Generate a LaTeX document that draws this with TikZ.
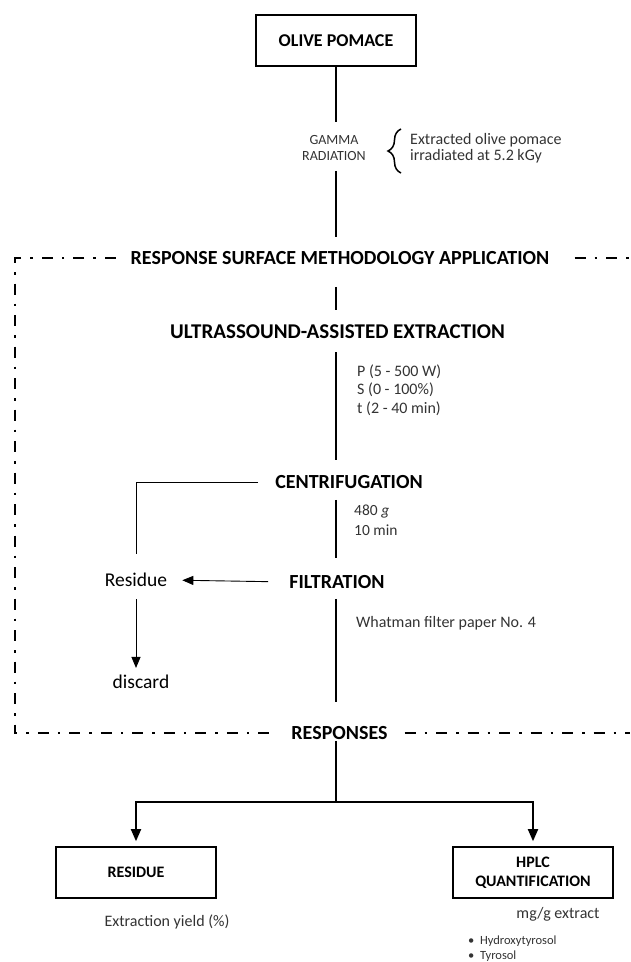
\documentclass[tikz,border=0pt]{standalone}
\usepackage{fontspec}
\setmainfont{Carlito}
\usetikzlibrary{arrows.meta,decorations.pathreplacing}
\begin{document}
\begin{tikzpicture}[x=1pt,y=-1pt,
  title/.style={font=\fontsize{20}{24}\selectfont\bfseries, inner sep=0pt},
  boxnode/.style={draw, line width=1.6pt, minimum width=160pt, minimum height=51pt, align=center, inner sep=0pt},
  note/.style={text=black!80, align=left, inner sep=0pt},
  main/.style={line width=1.8pt},
  thinline/.style={line width=0.9pt},
  frame/.style={line width=1.8pt, dash pattern=on 11pt off 9pt on 2.5pt off 9pt},
  tip/.style={-{Triangle[width=10pt,length=12pt]}},
]
\useasboundingbox (0,0) rectangle (630,962);
\coordinate (axis) at (336,0);
\coordinate (br) at (336,802);

\node[boxnode, font=\fontsize{18}{22}\selectfont\bfseries] (olive) at (336,40.5) {OLIVE POMACE};
\node[note, align=center, font=\fontsize{14}{16}\selectfont] (gamma) at (334,148) {GAMMA\\RADIATION};
\node[note, anchor=west, font=\fontsize{16}{16}\selectfont] (extr) at (410,148) {Extracted olive pomace\\irradiated at 5.2 kGy};
\node[title] (rsm) at (340,258) {RESPONSE SURFACE METHODOLOGY APPLICATION};
\node[title, font=\fontsize{21}{24}\selectfont\bfseries] (uae) at (337.5,332) {ULTRASSOUND-ASSISTED EXTRACTION};
\node[note, anchor=west, font=\fontsize{16}{18.5}\selectfont] (params) at (357,390) {P (5 - 500 W)\\S (0 - 100\%)\\t (2 - 40 min)};
\node[title] (centr) at (349,482) {CENTRIFUGATION};
\node[note, anchor=west, font=\fontsize{15.5}{20}\selectfont] (cpar) at (354,520) {480 \textit{g}\\10 min};
\node[title] (filt) at (337,582) {FILTRATION};
\node[note, anchor=west, font=\fontsize{16}{18}\selectfont] (wh) at (356,623) {Whatman filter paper No. 4};
\node[inner sep=0pt, font=\fontsize{19.5}{22}\selectfont] (residue) at (136,580) {Residue};
\node[inner sep=0pt, font=\fontsize{19.5}{22}\selectfont] (discard) at (141,682) {discard};
\node[title] (responses) at (339.5,733) {RESPONSES};
\node[boxnode, font=\fontsize{16}{19}\selectfont\bfseries] (resbox) at (136,872.5) {RESIDUE};
\node[boxnode, font=\fontsize{16}{19}\selectfont\bfseries] (hplc) at (533,872.5) {HPLC\\QUANTIFICATION};
\node[note, font=\fontsize{16}{18}\selectfont] (yield) at (167,922) {Extraction yield (\%)};
\node[note, font=\fontsize{16}{18}\selectfont] (mgg) at (558,914) {mg/g extract};
\node[note, anchor=west, font=\fontsize{12.5}{15}\selectfont] (bul) at (468,948.5) {\textbullet\ \ Hydroxytyrosol\\\textbullet\ \ Tyrosol};

% brace
\draw[decorate, decoration={brace, amplitude=13pt}, line width=1.5pt] (401,173) -- (401,129);

% main flow
\draw[main, shorten >=13pt] (olive.south) -- (olive.south |- gamma.north);
\draw[main, shorten <=10pt, shorten >=14pt] (olive.south |- gamma.south) -- (olive.south |- rsm.north);
\draw[main, shorten <=22pt, shorten >=15pt] (axis |- rsm.south) -- (axis |- uae.north);
\draw[main, shorten <=13pt, shorten >=15pt] (axis |- uae.south) -- (axis |- centr.north);
\draw[main, shorten <=11pt, shorten >=17pt] (axis |- centr.south) -- (axis |- filt.north);
\draw[main, shorten <=10pt, shorten >=24pt] (axis |- filt.south) -- (axis |- responses.north);
\draw[main, shorten <=1pt] (axis |- responses.south) -- (br);
\draw[main, tip, shorten >=5pt] (br) -| (resbox.north);
\draw[main, tip, shorten >=5pt] (br) -| (hplc.north);

% residue side
\draw[thinline, shorten <=17pt, shorten >=19pt] (centr.west) -| (residue.north);
\draw[thinline, -{Triangle[width=9pt,length=11pt]}, shorten <=21pt, shorten >=15pt] (filt.west) -- (residue.east);
\draw[thinline, -{Triangle[width=9pt,length=11pt]}, shorten <=12pt, shorten >=7pt] (residue.south) -- (residue.south |- discard.north);

% dash-dot frame
\draw[frame] ([xshift=-15pt]rsm.west) -- (15,258) -- (15,733) -- ([xshift=-21pt]responses.west);
\draw[frame] ([xshift=25pt]rsm.east) -- (630,258);
\draw[frame] ([xshift=17pt]responses.east) -- (630,733);
\end{tikzpicture}
\end{document}
